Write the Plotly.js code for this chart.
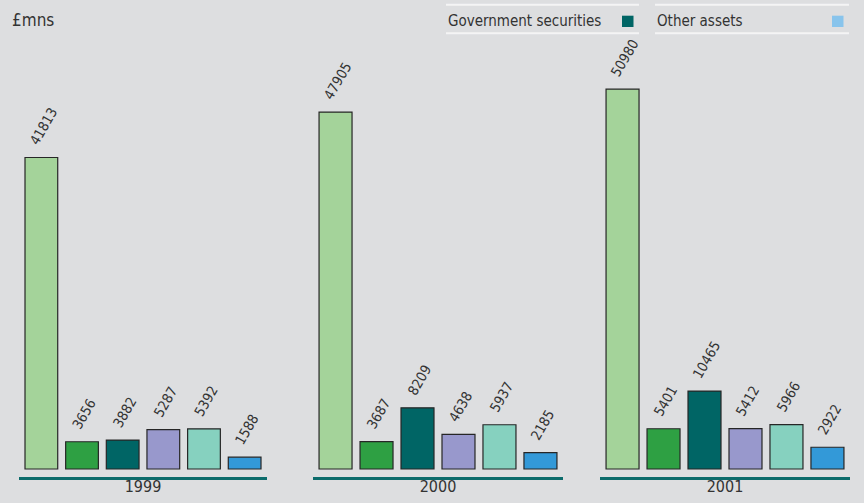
<!DOCTYPE html>
<html>
<head>
<meta charset="utf-8">
<script src="https://cdn.plot.ly/plotly-3.0.1.min.js"></script>
<style>
  html, body { margin: 0; padding: 0; background: #dddee0; }
  #chart { width: 864px; height: 503px; }
</style>
</head>
<body>
<div id="chart"></div>
<script>
// Values in £mns, six holdings per year
const years = ['1999', '2000', '2001'];
const holdings = ['h1', 'h2', 'h3', 'h4', 'h5', 'h6'];
const values1999 = [41813, 3656, 3882, 5287, 5392, 1588];
const values2000 = [47905, 3687, 8209, 4638, 5937, 2185];
const values2001 = [50980, 5401, 10465, 5412, 5966, 2922];
const barColors = ['#a4d39a', '#2ea043', '#006565', '#9898cc', '#86d1bf', '#3399d8'];

const legendLabels = ['Government securities', 'Other assets'];
const legendColors = ['#006565', '#88c4ec'];

const FONT = '"DejaVu Sans Condensed", "Liberation Sans Narrow", "Arial Narrow", sans-serif';
const INK = '#333333';
const BG = '#dddee0';

const W = 864, H = 503;
const M = { l: 0, r: 0, t: 40, b: 26 };
const plotH = H - M.t - M.b;
// pixel helpers for layout decorations (paper coordinates)
const px = x => (x - M.l) / (W - M.l - M.r);
const py = y => (H - M.b - y) / plotH;

const series = [values1999, values2000, values2001];
const domains = [[19, 267], [313, 563], [600, 850]];

const traces = series.map((vals, i) => ({
  type: 'bar',
  x: holdings,
  y: vals,
  xaxis: i === 0 ? 'x' : 'x' + (i + 1),
  yaxis: 'y',
  marker: { color: barColors, line: { color: '#262626', width: 1.2 } },
  text: vals.map(String),
  // two no-break spaces lift the slanted value clear of the bar top
  texttemplate: '\u00a0\u00a0%{text}',
  textposition: 'outside',
  textangle: -60,
  constraintext: 'none',
  cliponaxis: false,
  textfont: { family: FONT, size: 14, color: INK },
  hoverinfo: 'skip',
  showlegend: false
}));

// y scale: zero sits 8px above the bottom rule
const pxPerUnit = 0.00745;
const yMin = -8 / pxPerUnit;
const yMax = (plotH - 8) / pxPerUnit;

const layout = {
  width: W, height: H,
  margin: M,
  paper_bgcolor: BG,
  plot_bgcolor: BG,
  font: { family: FONT, color: INK },
  bargap: 0.195,
  showlegend: false,
  yaxis: { range: [yMin, yMax], visible: false, fixedrange: true },
  shapes: [],
  annotations: [
    { text: '£mns', xref: 'paper', yref: 'paper', x: px(10), y: py(20),
      xanchor: 'left', yanchor: 'middle', showarrow: false,
      font: { family: FONT, size: 17, color: INK } }
  ]
};

domains.forEach((d, i) => {
  const key = i === 0 ? 'xaxis' : 'xaxis' + (i + 1);
  layout[key] = {
    domain: [px(d[0]), px(d[1])],
    anchor: 'y',
    type: 'category',
    range: [-0.55, 5.55],
    showline: true, linecolor: '#0b6b6b', linewidth: 3,
    showgrid: false, zeroline: false,
    showticklabels: false, ticks: '',
    fixedrange: true,
    automargin: false,
    title: { text: years[i], standoff: 2, font: { family: FONT, size: 16, color: INK } }
  };
});

// key rows: text on the left, colour chip on the right, rules above and below
const legendBoxes = [[446, 639], [655, 849]];
legendBoxes.forEach((b, i) => {
  [4.7, 33.3].forEach(yy => layout.shapes.push({
    type: 'line', xref: 'paper', yref: 'paper',
    x0: px(b[0]), x1: px(b[1]), y0: py(yy), y1: py(yy),
    line: { color: '#f4f4f5', width: 2 }
  }));
  layout.shapes.push({
    type: 'rect', xref: 'paper', yref: 'paper',
    x0: px(b[1] - 17), x1: px(b[1] - 5.5), y0: py(27), y1: py(15.7),
    fillcolor: legendColors[i], line: { width: 0 }
  });
  layout.annotations.push({
    text: legendLabels[i], xref: 'paper', yref: 'paper',
    x: px(b[0]), y: py(21), xanchor: 'left', yanchor: 'middle',
    showarrow: false, font: { family: FONT, size: 15, color: INK }
  });
});

Plotly.newPlot('chart', traces, layout, { displayModeBar: false, staticPlot: true });
</script>
</body>
</html>
